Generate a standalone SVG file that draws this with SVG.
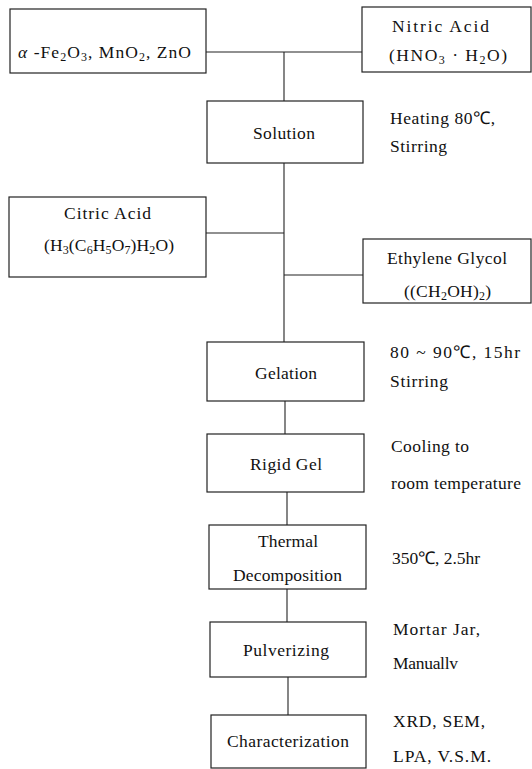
<svg xmlns="http://www.w3.org/2000/svg" width="532" height="769" viewBox="0 0 532 769">
<style>
.box{fill:#fff;stroke:#222;stroke-width:1.2}
.ln{stroke:#222;stroke-width:1.1;fill:none}
text{font-family:"Liberation Serif","Times New Roman",serif;font-size:17.5px;fill:#111}
.s{font-size:12px}
</style>
<rect width="532" height="769" fill="#fff"/>
<g id="connectors">
<line class="ln" x1="206" y1="52" x2="362" y2="52"/>
<line class="ln" x1="284" y1="52" x2="284" y2="101"/>
<line class="ln" x1="284" y1="163" x2="284" y2="342"/>
<line class="ln" x1="206" y1="233" x2="284" y2="233"/>
<line class="ln" x1="284" y1="275" x2="363" y2="275"/>
<line class="ln" x1="285" y1="401" x2="285" y2="434"/>
<line class="ln" x1="287" y1="492" x2="287" y2="525"/>
<line class="ln" x1="287" y1="589" x2="287" y2="622"/>
<line class="ln" x1="288" y1="677" x2="288" y2="715"/>
</g>
<g id="oxides">
<rect class="box" x="10" y="9" width="196" height="64"/>
<text x="18" y="58" textLength="173" lengthAdjust="spacing"><tspan font-style="italic">α</tspan> -Fe<tspan class="s" baseline-shift="-3">2</tspan>O<tspan class="s" baseline-shift="-3">3</tspan>, MnO<tspan class="s" baseline-shift="-3">2</tspan>, ZnO</text>
</g>
<g id="nitric">
<rect class="box" x="362" y="7" width="169" height="65"/>
<text x="392" y="32" textLength="97" lengthAdjust="spacing">Nitric Acid</text>
<text x="389" y="61" textLength="118" lengthAdjust="spacing">(HNO<tspan class="s" baseline-shift="-3">3</tspan> · H<tspan class="s" baseline-shift="-3">2</tspan>O)</text>
</g>
<g id="solution">
<rect class="box" x="207" y="101" width="156" height="62"/>
<text x="253" y="139" textLength="62" lengthAdjust="spacing">Solution</text>
<text x="390" y="124" textLength="105" lengthAdjust="spacing">Heating 80℃,</text>
<text x="390" y="152" textLength="57" lengthAdjust="spacing">Stirring</text>
</g>
<g id="citric">
<rect class="box" x="9" y="197" width="197" height="80"/>
<text x="64" y="219" textLength="87" lengthAdjust="spacing">Citric Acid</text>
<text x="44" y="251" textLength="130" lengthAdjust="spacing">(H<tspan class="s" baseline-shift="-3">3</tspan>(C<tspan class="s" baseline-shift="-3">6</tspan>H<tspan class="s" baseline-shift="-3">5</tspan>O<tspan class="s" baseline-shift="-3">7</tspan>)H<tspan class="s" baseline-shift="-3">2</tspan>O)</text>
</g>
<g id="ethylene">
<rect class="box" x="363" y="239" width="168" height="64"/>
<text x="387" y="264" textLength="120" lengthAdjust="spacing">Ethylene Glycol</text>
<text x="404" y="297" textLength="87" lengthAdjust="spacing">((CH<tspan class="s" baseline-shift="-3">2</tspan>OH)<tspan class="s" baseline-shift="-3">2</tspan>)</text>
</g>
<g id="gelation">
<rect class="box" x="207" y="342" width="157" height="59"/>
<text x="255" y="379" textLength="62" lengthAdjust="spacing">Gelation</text>
<text x="390" y="358" textLength="130" lengthAdjust="spacing">80 ~ 90℃, 15hr</text>
<text x="390" y="387" textLength="58" lengthAdjust="spacing">Stirring</text>
</g>
<g id="rigidgel">
<rect class="box" x="207" y="434" width="157" height="58"/>
<text x="250" y="470" textLength="72" lengthAdjust="spacing">Rigid Gel</text>
<text x="391" y="452" textLength="78" lengthAdjust="spacing">Cooling to</text>
<text x="391" y="489" textLength="130" lengthAdjust="spacing">room temperature</text>
</g>
<g id="thermal">
<rect class="box" x="209" y="525" width="157" height="64"/>
<text x="258" y="547" textLength="60" lengthAdjust="spacing">Thermal</text>
<text x="233" y="581" textLength="109" lengthAdjust="spacing">Decomposition</text>
<text x="392" y="564" textLength="88" lengthAdjust="spacing">350℃, 2.5hr</text>
</g>
<g id="pulverizing">
<rect class="box" x="210" y="622" width="156" height="55"/>
<text x="243" y="656" textLength="86" lengthAdjust="spacing">Pulverizing</text>
<text x="393" y="635" textLength="87" lengthAdjust="spacing">Mortar Jar,</text>
<text x="393" y="669" textLength="65" lengthAdjust="spacing">Manuallv</text>
</g>
<g id="characterization">
<rect class="box" x="211" y="715" width="155" height="53"/>
<text x="227" y="747" textLength="122" lengthAdjust="spacing">Characterization</text>
<text x="393" y="727" textLength="92" lengthAdjust="spacing">XRD, SEM,</text>
<text x="393" y="762" textLength="98" lengthAdjust="spacing">LPA, V.S.M.</text>
</g>
</svg>
